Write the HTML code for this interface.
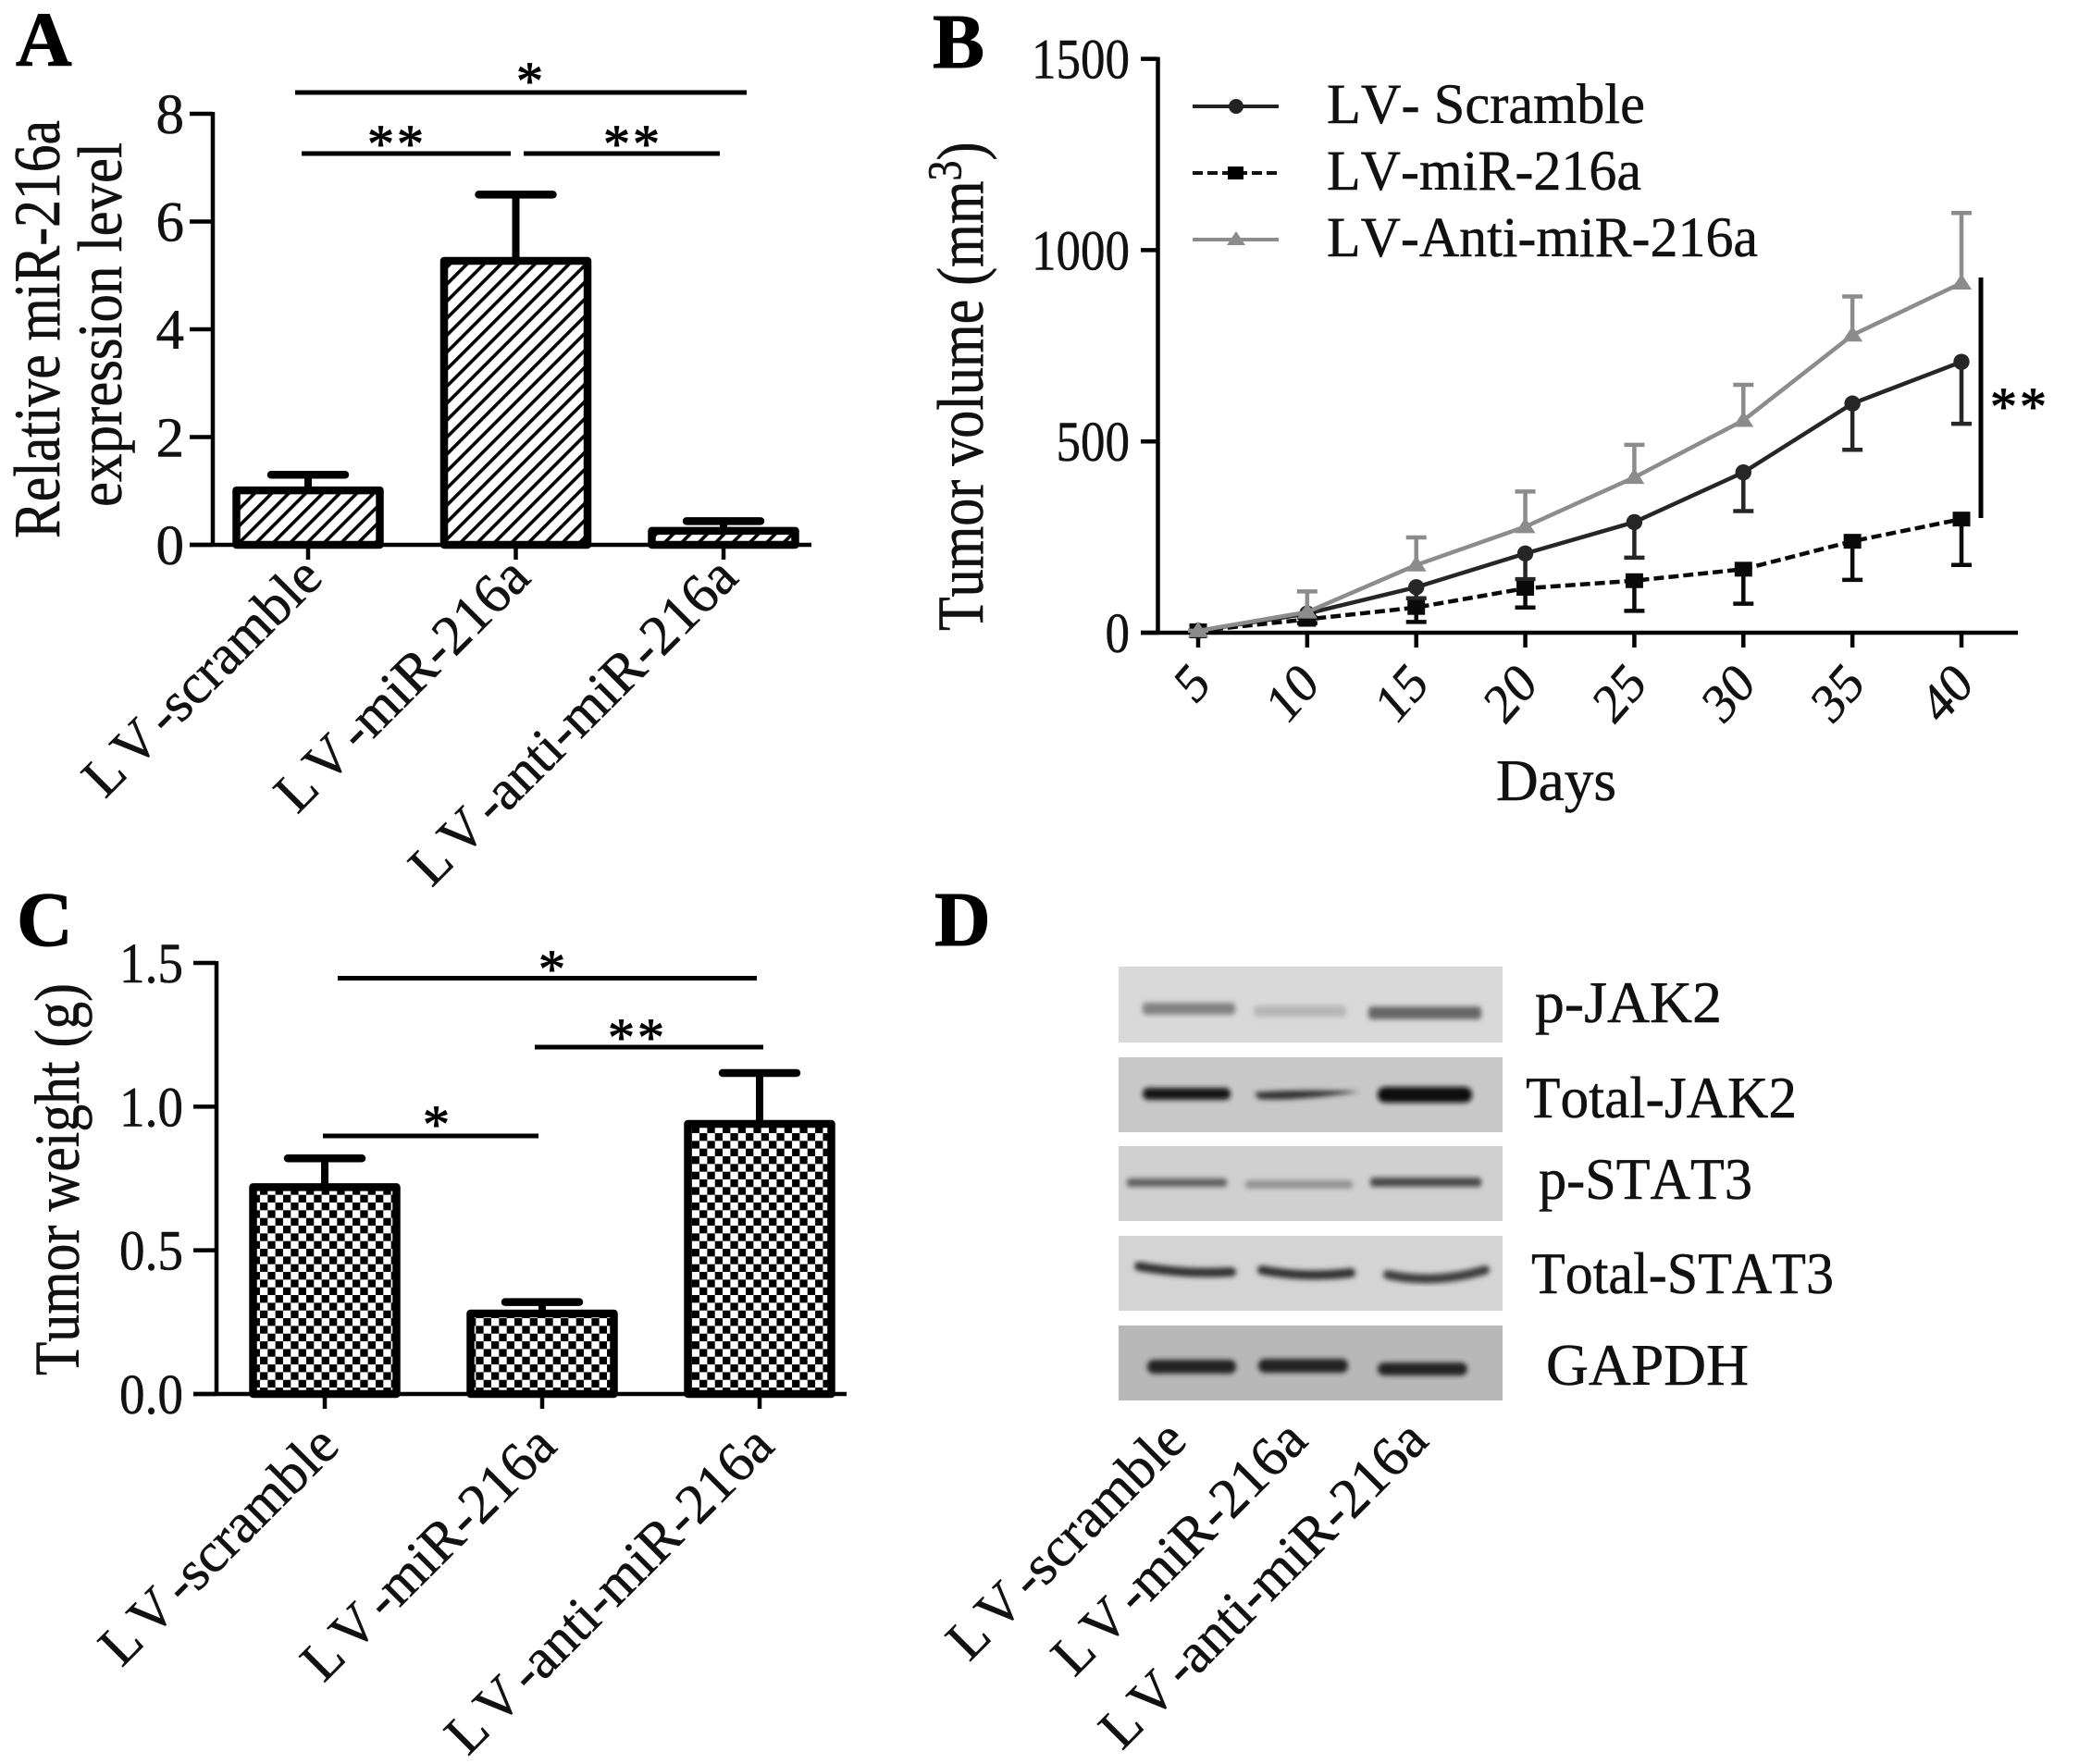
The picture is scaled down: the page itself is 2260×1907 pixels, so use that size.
<!DOCTYPE html>
<html lang="en">
<head>
<meta charset="utf-8">
<title>miR-216a figure</title>
<style>
html,body{margin:0;padding:0;background:#fff;}
svg{display:block;}
text{font-family:"Liberation Serif","DejaVu Serif",serif;fill:#111;font-kerning:none;stroke:#111;stroke-width:.5;}
.letter{font-weight:bold;font-size:84px;fill:#000;stroke:#000;stroke-width:1;}
.star{font-size:58px;letter-spacing:3px;text-anchor:middle;fill:#000;stroke:#000;stroke-width:1;}
.lab{font-size:61px;}
.sig{stroke:#000;stroke-width:5;fill:none;}
</style>
</head>
<body>
<svg id="figure" xmlns="http://www.w3.org/2000/svg" width="2260" height="1907" viewBox="0 0 2260 1907">
<defs>
<pattern id="hatch" patternUnits="userSpaceOnUse" width="13" height="13" patternTransform="rotate(-45 333 589)">
<rect width="13" height="13" fill="#fff"/><rect x="0" y="0" width="13" height="3.6" fill="#000"/>
</pattern>
<pattern id="checker" patternUnits="userSpaceOnUse" x="289.3" y="1291.7" width="16.67" height="16.67">
<rect width="16.67" height="16.67" fill="#fff"/><rect x="0" y="0" width="8.3" height="8.3" fill="#000"/><rect x="8.33" y="8.33" width="8.3" height="8.3" fill="#000"/>
</pattern>
<filter id="soft" x="-10%" y="-60%" width="120%" height="220%"><feGaussianBlur stdDeviation="2.6"/></filter>
</defs>

<text class="letter" x="17" y="71">A</text>
<text class="letter" x="1008" y="73">B</text>
<text class="letter" x="18" y="1022">C</text>
<text class="letter" x="1010" y="1022">D</text>

<g id="panel-a">
<text class="lab" transform="translate(64,582) rotate(-90) scale(1,1.18)" textLength="452" lengthAdjust="spacingAndGlyphs" style="font-size:60px">Relative miR-216a</text>
<text class="lab" transform="translate(131,548) rotate(-90) scale(1,1.12)" textLength="394" lengthAdjust="spacingAndGlyphs">expression level</text>
<line class="sig" x1="319" y1="100" x2="807" y2="100"/>
<line class="sig" x1="326" y1="166" x2="552" y2="166"/>
<line class="sig" x1="566" y1="166" x2="778" y2="166"/>
<text class="star" x="574" y="107">*</text>
<text class="star" x="429" y="175">**</text>
<text class="star" x="684" y="175">**</text>
</g>

<g id="panel-b">
<text class="lab" transform="translate(1062,682) rotate(-90) scale(1,1.18)" style="font-size:60px">Tumor volume (mm<tspan dy="-20" style="font-size:44px">3</tspan><tspan dy="20">)</tspan></text>
<text class="lab" x="1617" y="865" textLength="130" lengthAdjust="spacingAndGlyphs" style="font-size:63px">Days</text>
<g>
<g>
<line x1="1289" y1="115" x2="1382" y2="115" stroke="#222" stroke-width="4"/>
<circle cx="1336" cy="115" r="8" fill="#222"/>
<text class="lab" x="1434" y="133" textLength="344" lengthAdjust="spacingAndGlyphs">LV- Scramble</text>
</g>
<g>
<line x1="1289" y1="187" x2="1382" y2="187" stroke="#111" stroke-width="4" stroke-dasharray="11 5"/>
<rect x="1327" y="180" width="17" height="14" fill="#000"/>
<text class="lab" x="1434" y="205" textLength="340" lengthAdjust="spacingAndGlyphs">LV-miR-216a</text>
</g>
<g>
<line x1="1289" y1="259" x2="1382" y2="259" stroke="#8c8c8c" stroke-width="4"/>
<polygon points="1336,250 1346,265 1326,265" fill="#8c8c8c"/>
<text class="lab" x="1434" y="277" textLength="466" lengthAdjust="spacingAndGlyphs">LV-Anti-miR-216a</text>
</g>
</g>
<line class="sig" x1="2141" y1="300" x2="2141" y2="560"/>
<text class="star" x="2183" y="459">**</text>
</g>

<g id="panel-c">
<text class="lab" transform="translate(85,1487) rotate(-90) scale(1,1.13)" textLength="424" lengthAdjust="spacingAndGlyphs">Tumor weight (g)</text>
<line class="sig" x1="365" y1="1057.5" x2="818" y2="1057.5"/>
<line class="sig" x1="578" y1="1132" x2="825" y2="1132"/>
<line class="sig" x1="349" y1="1228" x2="582" y2="1228"/>
<text class="star" x="598" y="1067">*</text>
<text class="star" x="689" y="1141">**</text>
<text class="star" x="473" y="1235">*</text>
</g>

<g id="panel-d">
<g>
<rect x="1209" y="1045" width="415" height="82" fill="#d9d9d9"/>
<g filter="url(#soft)">
<rect x="1235" y="1084" width="100" height="13" rx="4" fill="#828282"/>
<rect x="1355" y="1087" width="100" height="12" rx="4" fill="#b6b6b6"/>
<rect x="1479" y="1088" width="122" height="14" rx="4" fill="#666"/>
</g>
</g>
<g>
<rect x="1209" y="1143" width="415" height="81" fill="#c8c8c8"/>
<g filter="url(#soft)">
<rect x="1235" y="1176" width="95" height="13" rx="6" fill="#161616"/>
<path d="M1356 1181 Q1400 1177 1470 1180 Q1400 1191 1360 1188 Z" fill="#333"/>
<rect x="1489" y="1175" width="102" height="17" rx="8" fill="#0e0e0e"/>
</g>
</g>
<g>
<rect x="1209" y="1239" width="415" height="81" fill="#d0d0d0"/>
<g filter="url(#soft)">
<rect x="1218" y="1274" width="108" height="9" rx="3" fill="#5e5e5e"/>
<rect x="1346" y="1276" width="116" height="9" rx="3" fill="#929292"/>
<rect x="1481" y="1273" width="120" height="10" rx="3" fill="#4a4a4a"/>
</g>
</g>
<g>
<rect x="1209" y="1336" width="415" height="81" fill="#d4d4d4"/>
<g filter="url(#soft)" fill="none" stroke-linecap="round">
<path d="M1231 1369 Q1280 1378 1331 1375" stroke="#333" stroke-width="10"/>
<path d="M1364 1373 Q1410 1382 1460 1376" stroke="#333" stroke-width="10"/>
<path d="M1500 1378 Q1550 1389 1605 1373" stroke="#3c3c3c" stroke-width="10"/>
</g>
</g>
<g>
<rect x="1209" y="1433" width="415" height="81" fill="#b8b8b8"/>
<g filter="url(#soft)">
<rect x="1240" y="1470" width="96" height="15" rx="7" fill="#222"/>
<rect x="1360" y="1469" width="97" height="15" rx="7" fill="#222"/>
<rect x="1489" y="1473" width="97" height="14" rx="7" fill="#222"/>
</g>
</g>
<text class="lab" x="1659" y="1105" textLength="202" lengthAdjust="spacingAndGlyphs" style="font-size:64px">p-JAK2</text>
<text class="lab" x="1649" y="1208" textLength="293" lengthAdjust="spacingAndGlyphs" style="font-size:64px">Total-JAK2</text>
<text class="lab" x="1663" y="1296" textLength="231" lengthAdjust="spacingAndGlyphs" style="font-size:64px">p-STAT3</text>
<text class="lab" x="1655" y="1398" textLength="327" lengthAdjust="spacingAndGlyphs" style="font-size:64px">Total-STAT3</text>
<text class="lab" x="1671" y="1497" textLength="219" lengthAdjust="spacingAndGlyphs" style="font-size:64px">GAPDH</text>
</g>
</svg>

<script>
/* Panel A data */
const aCategories = ['LV-scramble', 'LV-miR-216a', 'LV-anti-miR-216a'];
const aValues = [1.01, 5.27, 0.26];
const aErrorTops = [1.3, 6.5, 0.44];
const aYTicks = [0, 2, 4, 6, 8];

/* Panel B data */
const bDays = [5, 10, 15, 20, 25, 30, 35, 40];
const bYTicks = [0, 500, 1000, 1500];
const bScramble = [5, 50, 119, 207, 289, 419, 599, 708];
const bScrambleLower = [5, 40, 90, 140, 196, 318, 478, 546];
const bMiR = [5, 35, 66, 116, 136, 166, 239, 297];
const bMiRLower = [5, 25, 28, 66, 57, 76, 138, 177];
const bAnti = [5, 54, 177, 277, 406, 555, 778, 914];
const bAntiUpper = [5, 108, 249, 369, 491, 648, 879, 1097];

/* Panel C data */
const cCategories = ['LV-scramble', 'LV-miR-216a', 'LV-anti-miR-216a'];
const cValues = [0.72, 0.28, 0.94];
const cErrorTops = [0.82, 0.32, 1.117];
const cYTicks = ['0.0', '0.5', '1.0', '1.5'];

/* Panel D lane labels */
const dLanes = ['LV-scramble', 'LV-miR-216a', 'LV-anti-miR-216a'];

const NS = 'http://www.w3.org/2000/svg';
function make(tag, attrs, parent, txt) {
  const el = document.createElementNS(NS, tag);
  for (const k in attrs) el.setAttribute(k, attrs[k]);
  if (txt !== undefined) el.textContent = txt;
  parent.appendChild(el);
  return el;
}

/* Rotated category label with wide "LV" as in the reference */
function slantLabel(parent, px, py, label) {
  const t = make('text', {transform: 'translate(' + px + ',' + py + ') rotate(-45)', 'text-anchor': 'end', 'class': 'lab'}, parent);
  
  
  const lv = make('tspan', {'letter-spacing': '7'}, t, 'LV');
  
  
  t.appendChild(document.createTextNode(label.slice(2)));
}

function barPanel(o) {
  const root = document.getElementById(o.id);
  const yS = v => o.y0 - (v / o.yMax) * (o.y0 - o.yTop);
  const xS = i => o.xStart + o.xStep * i;

  const yAxis = make('line', {x1: o.axisX, y1: yS(o.yMax) - 2, x2: o.axisX, y2: o.y0, stroke: '#000', 'stroke-width': 4.5}, root);
  
  

  o.ticks.forEach(function (tk) {
    const v = parseFloat(tk);
    const tick = make('line', {x1: o.axisX - 25, y1: yS(v), x2: o.axisX, y2: yS(v), stroke: '#000', 'stroke-width': 4.5}, root);
    
    
    const attrs = {x: o.axisX - 31 + (o.tickLabelDx || 0), y: yS(v) + 21, 'text-anchor': 'end', 'class': 'lab'};
    if (o.tickLabelLength) { attrs.textLength = o.tickLabelLength; attrs.lengthAdjust = 'spacingAndGlyphs'; }
    const lab = make('text', attrs, root, tk);
    
    
  });

  o.categories.forEach(function (cat, i) {
    const cx = xS(i);
    const stem = make('line', {x1: cx, y1: yS(o.values[i]), x2: cx, y2: yS(o.tops[i]), stroke: '#000', 'stroke-width': 8}, root);
    
    
    const cap = make('line', {x1: cx - 40, y1: yS(o.tops[i]), x2: cx + 40, y2: yS(o.tops[i]), stroke: '#000', 'stroke-width': 8.5, 'stroke-linecap': 'round'}, root);
    
    
    const bar = make('rect', {x: cx - 77.5, y: yS(o.values[i]), width: 155, height: o.y0 - yS(o.values[i]), fill: o.fill, stroke: '#000', 'stroke-width': 8.5, 'stroke-linejoin': 'round'}, root);
    
    
    const tick = make('line', {x1: cx, y1: o.y0, x2: cx, y2: o.y0 + 16, stroke: '#000', 'stroke-width': 4.5}, root);
    
    
    slantLabel(root, cx + 18, o.y0 + o.labelDy, cat);
  });

  const xAxis = make('line', {x1: o.axisX - 25, y1: o.y0, x2: o.xEnd, y2: o.y0, stroke: '#000', 'stroke-width': 4.5}, root);
  
  
}

barPanel({id: 'panel-a', categories: aCategories, values: aValues, tops: aErrorTops, ticks: aYTicks.map(String),
  yMax: 8, y0: 589, yTop: 123, axisX: 230, xStart: 333, xStep: 224.5, xEnd: 877, fill: 'url(#hatch)', labelDy: 38});
barPanel({id: 'panel-c', categories: cCategories, values: cValues, tops: cErrorTops, ticks: cYTicks,
  yMax: 1.5, y0: 1507, yTop: 1041, axisX: 234, xStart: 351, xStep: 235, xEnd: 915, fill: 'url(#checker)', labelDy: 59,
  tickLabelLength: 69, tickLabelDx: -5});

/* Panel D lane labels, spaced by lane index */
(function () {
  const root = document.getElementById('panel-d');
  dLanes.forEach(function (lane, i) {
    slantLabel(root, 1285 + 130.5 * i, 1560, lane);
  });
})();

/* Panel B line chart */
(function () {
  const root = document.getElementById('panel-b');
  const xB = d => 1295 + (d - 5) / 35 * 825;
  const yB = v => 684 - v / 1500 * 620.4;

  const yAxis = make('line', {x1: 1251.5, y1: yB(1500) - 2, x2: 1251.5, y2: 684, stroke: '#000', 'stroke-width': 4.5}, root);
  
  
  const xAxis = make('line', {x1: 1233, y1: 684, x2: 2181, y2: 684, stroke: '#000', 'stroke-width': 4.5}, root);
  
  

  bYTicks.forEach(function (v) {
    const tick = make('line', {x1: 1233, y1: yB(v), x2: 1251.5, y2: yB(v), stroke: '#000', 'stroke-width': 4.5}, root);
    
    
    const s = String(v);
    const lab = make('text', {x: 1221, y: yB(v) + 21, 'text-anchor': 'end', 'class': 'lab', textLength: s.length * 26.5, lengthAdjust: 'spacingAndGlyphs'}, root, s);
    
    
  });

  bDays.forEach(function (d) {
    const tick = make('line', {x1: xB(d), y1: 684, x2: xB(d), y2: 700, stroke: '#000', 'stroke-width': 4.5}, root);
    
    
    const lab = make('text', {transform: 'translate(' + (xB(d) + 15) + ',742) scale(.87,1) rotate(-45)', 'text-anchor': 'end', 'class': 'lab'}, root, String(d));
    
    
  });

  function series(name, vals, bounds, color, dash, marker) {
    const g = make('g', {}, root);
    
    
    bDays.forEach(function (d, i) {
      const stem = make('line', {x1: xB(d), y1: yB(vals[i]), x2: xB(d), y2: yB(bounds[i]), stroke: color, 'stroke-width': 4.5}, g);
      
      
      const cap = make('line', {x1: xB(d) - 11, y1: yB(bounds[i]), x2: xB(d) + 11, y2: yB(bounds[i]), stroke: color, 'stroke-width': 4.5}, g);
      
      
    });
    const pts = bDays.map((d, i) => xB(d) + ',' + yB(vals[i])).join(' ');
    const line = make('polyline', {points: pts, fill: 'none', stroke: color, 'stroke-width': 4.5, 'stroke-dasharray': dash}, g);
    
    
    bDays.forEach(function (d, i) {
      const x = xB(d), y = yB(vals[i]);
      let m;
      if (marker === 'circle') {
        m = make('circle', {cx: x, cy: y, r: 8.7, fill: color}, g);
      } else if (marker === 'square') {
        m = make('rect', {x: x - 9.5, y: y - 8, width: 19, height: 16, fill: color}, g);
      } else {
        m = make('polygon', {points: x + ',' + (y - 10) + ' ' + (x + 11) + ',' + (y + 7) + ' ' + (x - 11) + ',' + (y + 7), fill: color}, g);
      }
      
      
    });
  }
  series('series-lv-scramble', bScramble, bScrambleLower, '#262626', 'none', 'circle');
  series('series-lv-mir-216a', bMiR, bMiRLower, '#0a0a0a', '11 5', 'square');
  series('series-lv-anti-mir-216a', bAnti, bAntiUpper, '#8c8c8c', 'none', 'triangle');
})();
</script>
</body>
</html>
